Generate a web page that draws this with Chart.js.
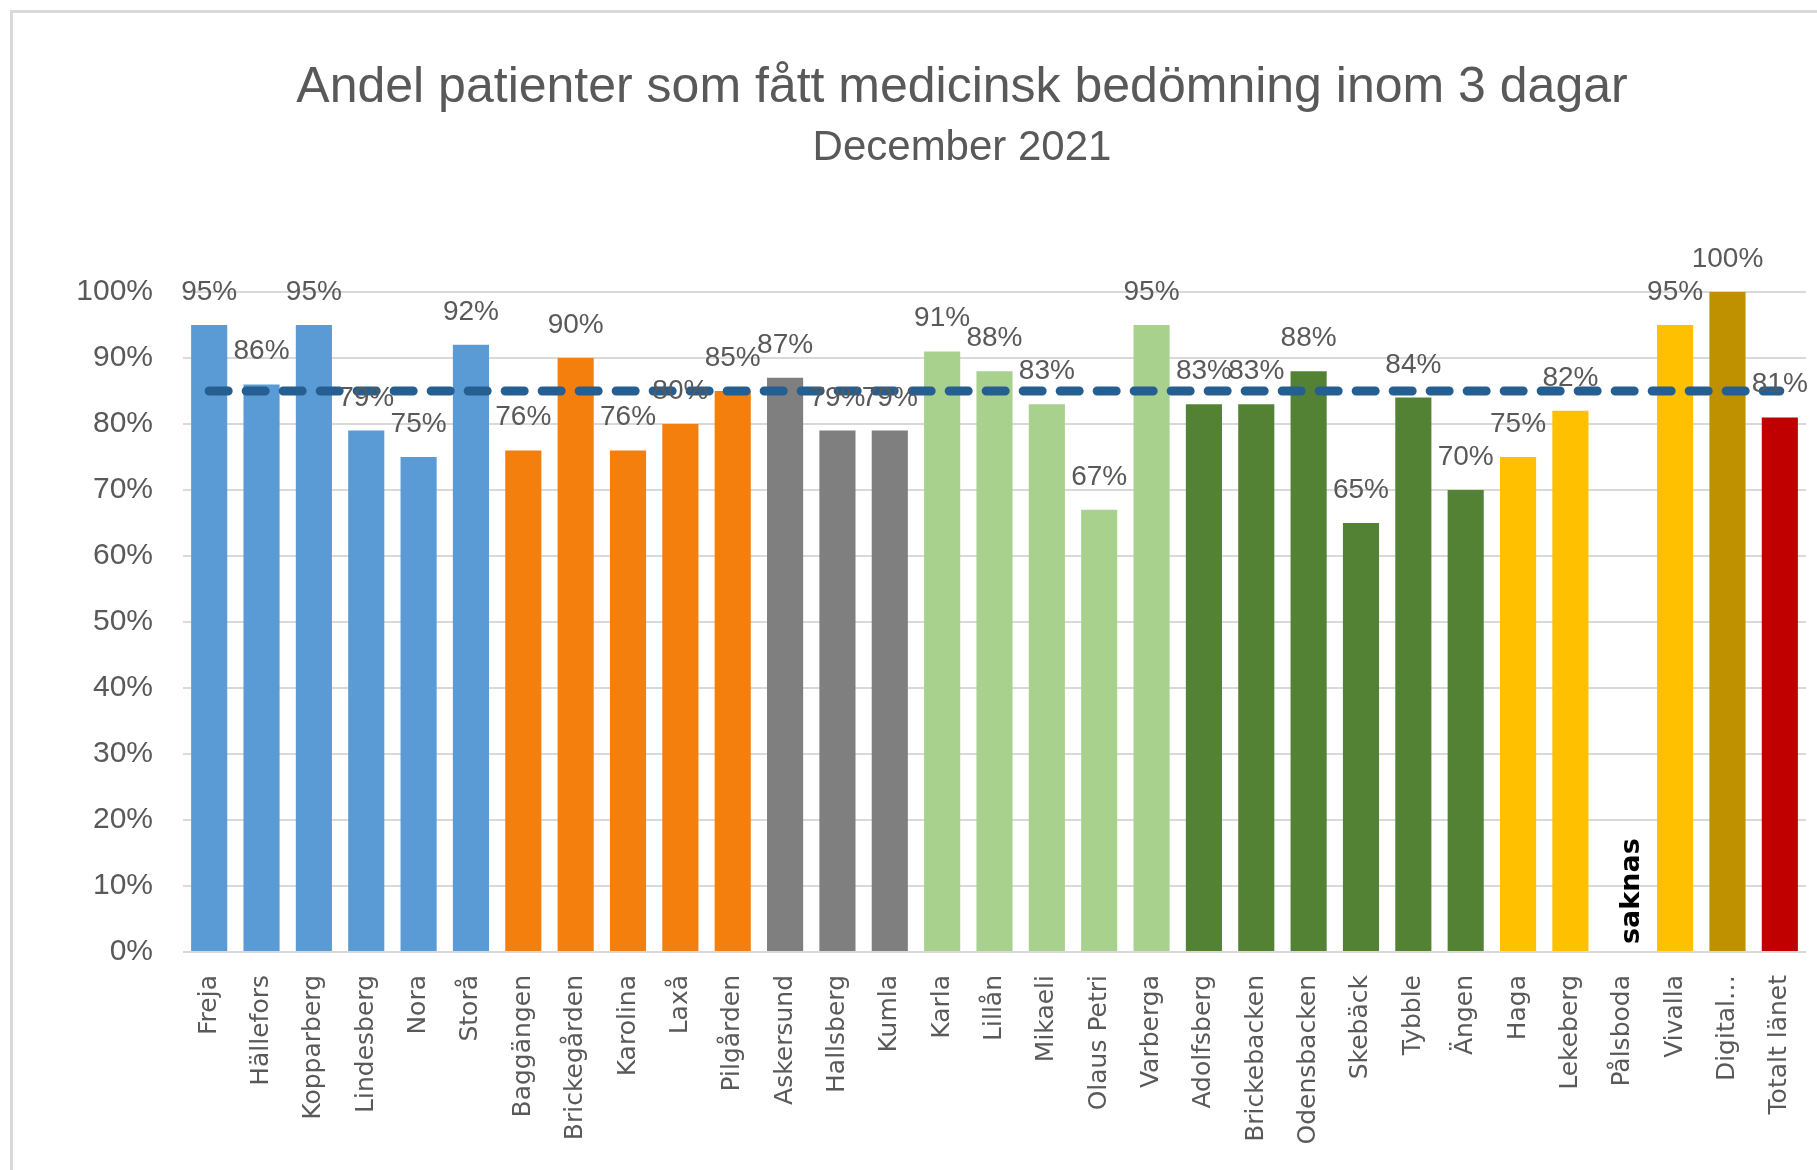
<!DOCTYPE html>
<html>
<head>
<meta charset="utf-8">
<script src="https://cdn.jsdelivr.net/npm/chart.js@4/dist/chart.umd.min.js"></script>
<style>
html, body { margin:0; padding:0; background:#fff; }
#wrap { position:relative; width:1817px; height:1170px; overflow:hidden; }
#frame { position:absolute; left:10px; top:10px; width:1830px; height:1180px;
  border-left:3px solid #D9D9D9; border-top:3px solid #D9D9D9; pointer-events:none; }
</style>
</head>
<body>
<div id="wrap"><canvas id="andel_chart"></canvas><div id="frame"></div></div>
<script>
const units = ['Freja','Hällefors','Kopparberg','Lindesberg','Nora','Storå',
  'Baggängen','Brickegården','Karolina','Laxå','Pilgården',
  'Askersund','Hallsberg','Kumla',
  'Karla','Lillån','Mikaeli','Olaus Petri','Varberga',
  'Adolfsberg','Brickebacken','Odensbacken','Skebäck','Tybble','Ängen',
  'Haga','Lekeberg','Pålsboda','Vivalla','Digital…','Totalt länet'];
const values = [95,86,95,79,75,92,
  76,90,76,80,85,
  87,79,79,
  91,88,83,67,95,
  83,83,88,65,84,70,
  75,82,null,95,100,81];
const goal = [85,85,85,85,85,85,85,85,85,85,85,85,85,85,85,85,
  85,85,85,85,85,85,85,85,85,85,85,85,85,85,85];
const yTicks = [0,10,20,30,40,50,60,70,80,90,100];

const barColors = ['#5B9BD5','#5B9BD5','#5B9BD5','#5B9BD5','#5B9BD5','#5B9BD5',
  '#F47F0C','#F47F0C','#F47F0C','#F47F0C','#F47F0C',
  '#7F7F7F','#7F7F7F','#7F7F7F',
  '#A9D18E','#A9D18E','#A9D18E','#A9D18E','#A9D18E',
  '#548235','#548235','#548235','#548235','#548235','#548235',
  '#FFC000','#FFC000','#FFC000','#FFC000','#BF9000','#C00000'];

// title + subtitle, drawn a bit left of centre like the original
const heading = {
  id: 'heading',
  afterDraw(chart) {
    const c = chart.ctx;
    c.save();
    c.fillStyle = '#595959';
    c.textAlign = 'center';
    c.textBaseline = 'middle';
    c.font = '50px "Liberation Sans"';
    c.fillText('Andel patienter som fått medicinsk bedömning inom 3 dagar', 962, 88);
    c.font = '42px "Liberation Sans"';
    c.fillText('December 2021', 962, 148);
    c.restore();
  }
};

const barLabels = {
  id: 'barLabels',
  afterDatasetsDraw(chart) {
    const c = chart.ctx;
    const meta = chart.getDatasetMeta(1);
    const xs = chart.scales.x, ys = chart.scales.y;
    c.save();
    meta.data.forEach(function(bar, i) {
      const v = values[i];
      if (v === null) {
        c.save();
        c.translate(xs.getPixelForValue(i) + 9, ys.getPixelForValue(0) - 8);
        c.rotate(-Math.PI / 2);
        c.font = 'bold 27px "DejaVu Sans"';
        c.fillStyle = '#000';
        c.textAlign = 'left';
        c.textBaseline = 'middle';
        c.fillText('saknas', 0, 0);
        c.restore();
      } else {
        c.font = '28px "Liberation Sans"';
        c.fillStyle = '#595959';
        c.textAlign = 'center';
        c.textBaseline = 'alphabetic';
        c.fillText(v + '%', bar.x, bar.y - 25);
      }
    });
    c.restore();
  }
};

const andel_chart = document.querySelector('#andel_chart').getContext('2d');

let chart = new Chart(andel_chart, {
  type: 'bar',
  data: {
    labels: units,
    datasets: [{
      type: 'line',
      label: 'Mål',
      data: goal,
      borderColor: '#255E91',
      borderWidth: 9,
      borderDash: [19, 18],
      borderCapStyle: 'round',
      pointRadius: 0,
      fill: false,
      order: 0
    }, {
      label: 'Andel',
      data: values,
      backgroundColor: barColors,
      categoryPercentage: 1,
      barPercentage: 0.69,
      order: 1
    }]
  },
  options: {
    responsive: true,
    maintainAspectRatio: false,
    animation: false,
    layout: { padding: { top: 292, left: 0, right: 11, bottom: 0 } },
    plugins: {
      legend: { display: false },
      tooltip: { enabled: false }
    },
    scales: {
      x: {
        grid: { display: false },
        border: { display: false },
        ticks: {
          autoSkip: false,
          maxRotation: 90,
          minRotation: 90,
          color: '#595959',
          padding: 15,
          font: { family: 'DejaVu Sans', size: 25 }
        },
        afterFit: function(s) {
          s.height = 218;
          s.paddingLeft = 0;
          s.paddingRight = 0;
        }
      },
      y: {
        min: 0,
        max: 100,
        afterBuildTicks: function(s) { s.ticks = yTicks.map(v => ({ value: v })); },
        ticks: {
          callback: v => v + '%',
          color: '#595959',
          padding: 30,
          font: { family: 'Liberation Sans', size: 30 }
        },
        grid: { color: '#D9D9D9', lineWidth: 2, drawTicks: false },
        border: { display: false },
        afterFit: function(s) { s.width = 183; }
      }
    }
  },
  plugins: [heading, barLabels]
});
</script>
</body>
</html>
